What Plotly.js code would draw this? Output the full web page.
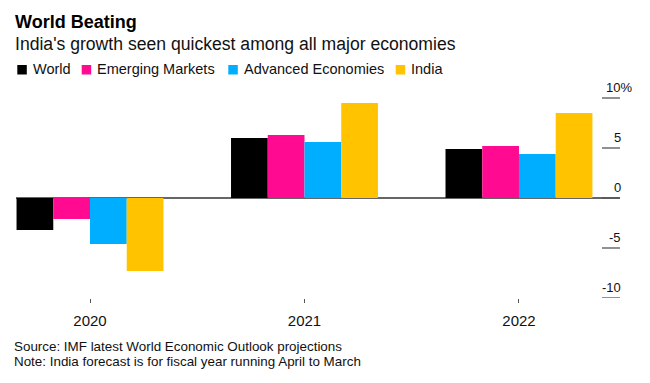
<!DOCTYPE html>
<html>
<head>
<meta charset="utf-8">
<script src="https://cdn.plot.ly/plotly-3.0.1.min.js"></script>
<style>
  html, body { margin: 0; padding: 0; background: #fff; }
  #chart { width: 650px; height: 383px; }
</style>
</head>
<body>
<div id="chart"></div>
<script>
// ---- data ----
const years = ['2020', '2021', '2022'];
const seriesNames = ['World', 'Emerging Markets', 'Advanced Economies', 'India'];
const seriesColors = ['#000000', '#ff0a90', '#00aeff', '#ffc300'];
const worldVals = [-3.2, 6.0, 4.9];
const emergingVals = [-2.1, 6.3, 5.2];
const advancedVals = [-4.6, 5.6, 4.4];
const indiaVals = [-7.3, 9.5, 8.5];
const yTickVals = [-10, -5, 0, 5, 10];
const yTickText = ['-10', '-5', '0', '5', '10%'];
const titleText = 'World Beating';
const subtitleText = "India's growth seen quickest among all major economies";
const sourceText = 'Source: IMF latest World Economic Outlook projections';
const noteText = 'Note: India forecast is for fiscal year running April to March';

const allVals = [worldVals, emergingVals, advancedVals, indiaVals];

// ---- layout helpers (pixel -> paper) ----
const W = 650, H = 383;
const M = {l: 16, r: 30, t: 93, b: 85};
const PW = W - M.l - M.r, PH = H - M.t - M.b;
const px = x => (x - M.l) / PW;
const py = y => (H - M.b - y) / PH;
const FONT = 'Liberation Sans, Arial, Helvetica, sans-serif';

const traces = seriesNames.map((name, i) => ({
  type: 'bar',
  name: name,
  x: years,
  y: allVals[i],
  marker: {color: seriesColors[i], line: {width: 0}},
  hoverinfo: 'x+y+name'
}));

const annotations = [];
const shapes = [];

// title & subtitle
annotations.push({text: '<b>' + titleText + '</b>', xref: 'paper', yref: 'paper',
  x: px(13), y: py(22.5), xanchor: 'left', yanchor: 'middle', showarrow: false,
  font: {family: FONT, size: 18, color: '#000'}});
annotations.push({text: subtitleText, xref: 'paper', yref: 'paper',
  x: px(13), y: py(43.5), xanchor: 'left', yanchor: 'middle', showarrow: false,
  font: {family: FONT, size: 17.6, color: '#111'}});

// legend (manual)
const legSquareX = [17.3, 81.7, 228.3, 395.7];
seriesNames.forEach((name, i) => {
  shapes.push({type: 'rect', xref: 'paper', yref: 'paper',
    x0: px(legSquareX[i]), x1: px(legSquareX[i] + 9.5),
    y0: py(74.5), y1: py(65), fillcolor: seriesColors[i], line: {width: 0}});
  annotations.push({text: name, xref: 'paper', yref: 'paper',
    x: px(legSquareX[i] + 13.5), y: py(69.5), xanchor: 'left', yanchor: 'middle',
    showarrow: false, font: {family: FONT, size: 14.5, color: '#111'}});
});

// y-axis ticks on the right (label above short tick line)
yTickVals.forEach((v, i) => {
  shapes.push({type: 'line', xref: 'paper', yref: 'y',
    x0: px(602), x1: 1, y0: v, y1: v, line: {color: '#555', width: 1.3}});
  const isTop = i === yTickVals.length - 1;
  annotations.push({text: yTickText[i], xref: 'paper', yref: 'y',
    x: isTop ? px(604.5) : px(621.5), y: v, xanchor: isTop ? 'left' : 'right',
    yanchor: 'bottom', yshift: 2, borderpad: 0,
    showarrow: false, font: {family: FONT, size: 13, color: '#111'}});
});

// source & note
annotations.push({text: sourceText, xref: 'paper', yref: 'paper',
  x: px(13), y: py(346.3), xanchor: 'left', yanchor: 'middle', showarrow: false,
  borderpad: 0, font: {family: FONT, size: 13.4, color: '#111'}});
annotations.push({text: noteText, xref: 'paper', yref: 'paper',
  x: px(13), y: py(361.3), xanchor: 'left', yanchor: 'middle', showarrow: false,
  borderpad: 0, font: {family: FONT, size: 13.4, color: '#111'}});

const layout = {
  width: W, height: H,
  margin: M,
  paper_bgcolor: '#fff', plot_bgcolor: '#fff',
  showlegend: false,
  barmode: 'group',
  bargap: 0.315,
  bargroupgap: 0,
  font: {family: FONT, color: '#111'},
  xaxis: {
    type: 'category',
    range: [-0.345, 2.471],
    showgrid: false, showline: false, zeroline: false,
    ticks: 'outside', ticklen: 4, tickwidth: 1, tickcolor: '#555',
    ticklabelstandoff: 5,
    tickfont: {family: FONT, size: 15, color: '#111'},
    fixedrange: true
  },
  yaxis: {
    range: [-10, 10.5],
    showgrid: false, showline: false,
    zeroline: true, zerolinecolor: '#666', zerolinewidth: 1.3,
    showticklabels: false, ticks: '',
    fixedrange: true
  },
  shapes: shapes,
  annotations: annotations
};

Plotly.newPlot('chart', traces, layout, {displayModeBar: false, staticPlot: true});
</script>
</body>
</html>
